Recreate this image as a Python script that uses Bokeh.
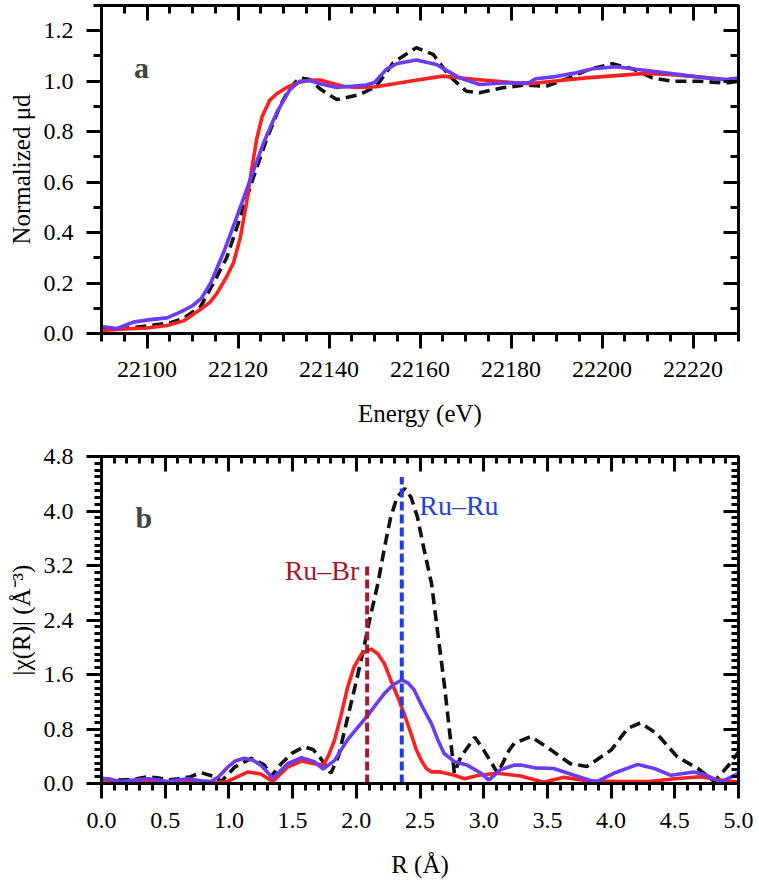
from bokeh.plotting import figure
from bokeh.models import (FixedTicker, LinearAxis, Label, Range1d, PrintfTickFormatter,
                          CustomJSTickFormatter)
from bokeh.layouts import column
from bokeh.embed import file_html
from bokeh.resources import INLINE

# ---------------- Panel a : XANES ----------------
energy_red = [22090, 22095, 22100, 22104.4, 22108, 22111.7, 22113.9, 22115.4, 22117.5, 22119, 22120.5,
              22121.9, 22123, 22124.1, 22125.3, 22127, 22128.5, 22130.7, 22133.6, 22135.8, 22138,
              22143.1, 22146, 22150.4, 22157.7, 22165, 22172.4, 22179.7, 22184, 22189.2, 22196.5,
              22203.8, 22209.6, 22214.7, 22221.3, 22227.2, 22230]
mu_red = [0.012, 0.018, 0.022, 0.032, 0.05, 0.095, 0.125, 0.16, 0.225, 0.28, 0.38,
          0.52, 0.65, 0.77, 0.86, 0.925, 0.95, 0.975, 0.996, 1.004, 1.005,
          0.98, 0.975, 0.978, 1.0, 1.02, 1.007, 0.996, 0.99, 1.0, 1.013,
          1.023, 1.031, 1.027, 1.017, 1.007, 1.004]

energy_blue = [22090, 22093.4, 22097, 22100.7, 22104.4, 22107.3, 22110, 22112, 22114, 22116.8, 22119.7,
               22122.7, 22125.6, 22128.5, 22131.4, 22133.6, 22135.8, 22138, 22141.7, 22148.2, 22150,
               22152.6, 22155, 22159.2, 22163.6, 22168.7, 22173.1, 22178.2, 22182, 22184, 22185.5,
               22189.2, 22194.3, 22198, 22203.1, 22207.5, 22212.6, 22218.4, 22224.3, 22227, 22230]
mu_blue = [0.028, 0.02, 0.045, 0.055, 0.062, 0.085, 0.11, 0.14, 0.20, 0.32, 0.46,
           0.61, 0.755, 0.875, 0.967, 1.0, 1.003, 0.99, 0.975, 0.985, 0.995,
           1.047, 1.07, 1.084, 1.066, 1.013, 0.987, 0.993, 0.993, 0.995, 1.01,
           1.017, 1.033, 1.049, 1.057, 1.047, 1.036, 1.023, 1.01, 1.007, 1.012]

energy_black = [22090, 22095, 22100, 22105, 22108, 22111.7, 22114.6, 22117.5, 22120.5, 22123.4, 22126.3,
                22129.2, 22131.4, 22133.6, 22135.8, 22138, 22141.7, 22146.8, 22150.4, 22154.1, 22159.2,
                22162.9, 22166.5, 22170.2, 22173.1, 22178.2, 22183.3, 22187.7, 22192.8, 22197.2, 22202.3,
                22206.7, 22211.1, 22215.5, 22221.3, 22227.2, 22230]
mu_black = [0.015, 0.02, 0.03, 0.042, 0.06, 0.105, 0.2, 0.30, 0.46, 0.62, 0.77,
            0.90, 0.974, 1.013, 1.007, 0.97, 0.927, 0.947, 0.98, 1.073, 1.133,
            1.106, 1.02, 0.96, 0.954, 0.974, 0.985, 0.98, 1.013, 1.047, 1.069,
            1.049, 1.013, 1.0, 1.0, 0.993, 1.0]

energy_ticks = [22100, 22120, 22140, 22160, 22180, 22200, 22220]
energy_minor = [22090 + 5 * i for i in range(29)]
mu_ticks = [0.0, 0.2, 0.4, 0.6, 0.8, 1.0, 1.2]
mu_minor = [round(0.1 * i, 1) for i in range(14)]

# ---------------- Panel b : FT-EXAFS ----------------
r_red = [0.0, 0.1, 0.2, 0.3, 0.4, 0.5, 0.6, 0.7, 0.8, 0.9, 0.99, 1.07, 1.15, 1.25, 1.345, 1.46, 1.57, 1.67,
         1.74, 1.78, 1.83, 1.88, 1.93, 1.98, 2.04, 2.09, 2.12, 2.17, 2.22, 2.27, 2.325, 2.38, 2.43,
         2.47, 2.51, 2.55, 2.59, 2.66, 2.77, 2.85, 2.96, 3.11,
         3.29, 3.47, 3.63, 3.81, 4.06, 4.3, 4.5, 4.7, 4.9, 5.0]
chi_red = [0.03, 0.02, 0.01, 0.03, 0.05, 0.02, 0.03, 0.04, 0.02, 0.01, 0.03, 0.1, 0.17, 0.14, 0.03, 0.24, 0.33, 0.29,
           0.27, 0.4, 0.64, 1.0, 1.4, 1.7, 1.9, 1.96, 1.97, 1.9, 1.76, 1.52, 1.27, 1.0, 0.73,
           0.5, 0.34, 0.22, 0.17, 0.17, 0.12, 0.07, 0.12, 0.15,
           0.11, 0.02, 0.09, 0.04, 0.03, 0.03, 0.07, 0.1, 0.04, 0.02]

r_blue = [0.0, 0.157, 0.25, 0.366, 0.45, 0.52, 0.6, 0.68, 0.78, 0.86, 0.92, 0.99, 1.05, 1.12, 1.19, 1.25,
          1.345, 1.40, 1.46, 1.57, 1.67, 1.74, 1.83, 1.93, 2.09, 2.15, 2.22, 2.29, 2.357, 2.41, 2.455,
          2.52, 2.59, 2.64, 2.69, 2.77,
          2.87, 2.98, 3.04, 3.13, 3.24, 3.29, 3.40, 3.55, 3.71, 3.88, 4.02, 4.21, 4.34, 4.47, 4.65,
          4.75, 4.86, 5.0]
chi_blue = [0.08, 0.03, 0.05, 0.07, 0.05, 0.03, 0.05, 0.07, 0.04, 0.03, 0.1, 0.24, 0.33, 0.37, 0.34, 0.27,
            0.08, 0.18, 0.29, 0.38, 0.32, 0.21, 0.34, 0.64, 1.0, 1.15, 1.32, 1.45, 1.52, 1.47, 1.37,
            1.12, 0.88, 0.64, 0.44, 0.32,
            0.27, 0.15, 0.05, 0.2, 0.27, 0.27, 0.23, 0.22, 0.12, 0.02, 0.15, 0.28, 0.22, 0.12, 0.17,
            0.12, 0.02, 0.15]

r_black = [0.0, 0.157, 0.25, 0.366, 0.45, 0.52, 0.6, 0.7, 0.78, 0.89, 0.94, 1.045, 1.175, 1.28, 1.33, 1.41,
           1.5, 1.59, 1.66, 1.72, 1.80, 1.86, 1.93, 2.0, 2.06, 2.11, 2.17, 2.22, 2.27, 2.32, 2.38, 2.43,
           2.48, 2.53, 2.59, 2.64, 2.69, 2.73, 2.77,
           2.82, 2.93, 3.0, 3.11, 3.2, 3.24, 3.37, 3.53, 3.68, 3.81, 4.0, 4.13, 4.23, 4.36, 4.52,
           4.68, 4.81, 4.91, 5.0]
chi_black = [0.07, 0.05, 0.06, 0.1, 0.08, 0.05, 0.07, 0.1, 0.16, 0.1, 0.03, 0.24, 0.37, 0.27, 0.1, 0.29,
             0.45, 0.54, 0.5, 0.37, 0.15, 0.4, 0.95, 1.5, 2.0, 2.45, 2.94, 3.45, 3.91, 4.2, 4.33, 4.2,
             3.91, 3.45, 2.94, 2.2, 1.47, 0.8, 0.15,
             0.39, 0.68, 0.49, 0.15, 0.49, 0.59, 0.69, 0.49, 0.29, 0.25, 0.49, 0.81, 0.89, 0.73, 0.39,
             0.22, 0.03, 0.24, 0.46]

bond_r = [2.085, 2.357]
bond_top = [3.23, 4.5]
bond_names = ["Ru\u2013Br", "Ru\u2013Ru"]

r_ticks = [0.0, 0.5, 1.0, 1.5, 2.0, 2.5, 3.0, 3.5, 4.0, 4.5, 5.0]
r_minor = [round(0.1 * i, 1) for i in range(51)]
chi_ticks = [0.0, 0.8, 1.6, 2.4, 3.2, 4.0, 4.8]
chi_minor = [round(0.1 * i, 1) for i in range(49)]

RED = "#ff2020"
BLUE = "#6a3cf5"
BLACK = "#111111"
FONT = "Liberation Serif"


def style(p, xt, xm, yt, ym, xfmt, yfmt, minor_len, xlabel, ylabel, tick_sd, label_sd):
    p.xgrid.visible = False
    p.ygrid.visible = False
    p.outline_line_color = "black"
    p.outline_line_width = 3
    p.background_fill_color = "white"
    p.border_fill_color = "white"
    xtick = FixedTicker(ticks=xt, minor_ticks=xm)
    ytick = FixedTicker(ticks=yt, minor_ticks=ym)
    bx = p.below[0]
    ly = p.left[0]
    for ax, tk, fmt, lab in ((bx, xtick, xfmt, xlabel), (ly, ytick, yfmt, ylabel)):
        ax.ticker = tk
        ax.formatter = PrintfTickFormatter(format=fmt)
        ax.axis_line_width = 3
        ax.major_tick_line_width = 3
        ax.minor_tick_line_width = 3
        ax.major_tick_out = 15
        ax.major_tick_in = 0
        ax.minor_tick_out = minor_len
        ax.minor_tick_in = 0
        ax.major_label_text_font = FONT
        ax.major_label_text_font_size = "24px"
        ax.major_label_text_color = "black"
        ax.axis_label = lab
        ax.axis_label_text_font = FONT
        ax.axis_label_text_font_style = "normal"
        ax.axis_label_text_font_size = "25px"
        ax.axis_label_text_color = "black"
    bx.major_label_standoff = tick_sd
    ly.major_label_standoff = 13
    bx.axis_label_standoff = label_sd
    ly.axis_label_standoff = 6
    for side, tk in (("above", xtick), ("right", ytick)):
        ax = LinearAxis(ticker=tk, axis_line_width=3, major_tick_line_width=3, minor_tick_line_width=3,
                        major_tick_in=15, major_tick_out=0, minor_tick_in=minor_len, minor_tick_out=0,
                        formatter=CustomJSTickFormatter(code="return ''"), major_label_standoff=0)
        p.add_layout(ax, side)


# ---------- figure a ----------
pa = figure(width=759, height=440, output_backend="svg", toolbar_location=None,
            x_range=Range1d(22090, 22230), y_range=Range1d(0, 1.3),
            min_border_left=101, min_border_right=21, min_border_top=5, min_border_bottom=107)
style(pa, energy_ticks, energy_minor, mu_ticks, mu_minor, "%d", "%.1f", 8,
      "Energy (eV)", "Normalized \u03bcd", 13, 20)

pa.line(energy_black, mu_black, line_color=BLACK, line_width=3.6, line_dash="11 6")
pa.line(energy_red, mu_red, line_color=RED, line_width=3.6)
pa.line(energy_blue, mu_blue, line_color=BLUE, line_width=3.6)

pa.add_layout(Label(x=22098.8, y=1.055, text="a", text_font=FONT, text_font_style="bold",
                    text_font_size="30px", text_align="center", text_baseline="alphabetic"))

# ---------- figure b ----------
pb = figure(width=759, height=453, output_backend="svg", toolbar_location=None,
            x_range=Range1d(0, 5), y_range=Range1d(0, 4.8),
            min_border_left=101, min_border_right=21, min_border_top=16, min_border_bottom=110)
style(pb, r_ticks, r_minor, chi_ticks, chi_minor, "%.1f", "%.1f", 7,
      "R (\u00c5)", "|\u03c7(R)| (\u00c5\u207b\u00b3)", 14, 20)

pb.line(r_black, chi_black, line_color=BLACK, line_width=3.6, line_dash="11 6")
pb.line(r_red, chi_red, line_color=RED, line_width=3.6)
pb.line(r_blue, chi_blue, line_color=BLUE, line_width=3.6)
pb.segment(x0=bond_r, y0=[0, 0], x1=bond_r, y1=bond_top, line_color=["#a8182c", "#1f3de8"],
           line_width=4, line_dash="9 4")

pb.add_layout(Label(x=2.024, y=3.13, text=bond_names[0], text_font=FONT, text_font_size="28px",
                    text_color="#a8182c", text_align="right", text_baseline="alphabetic"))
pb.add_layout(Label(x=2.494, y=4.087, text=bond_names[1], text_font=FONT, text_font_size="28px",
                    text_color="#2244dd", text_align="left", text_baseline="alphabetic"))
pb.add_layout(Label(x=0.333, y=3.91, text="b", text_font=FONT, text_font_style="bold",
                    text_font_size="30px", text_align="center", text_baseline="alphabetic"))

layout = column(pa, pb, spacing=0)
open("out.html", "w").write(file_html(layout, INLINE))
